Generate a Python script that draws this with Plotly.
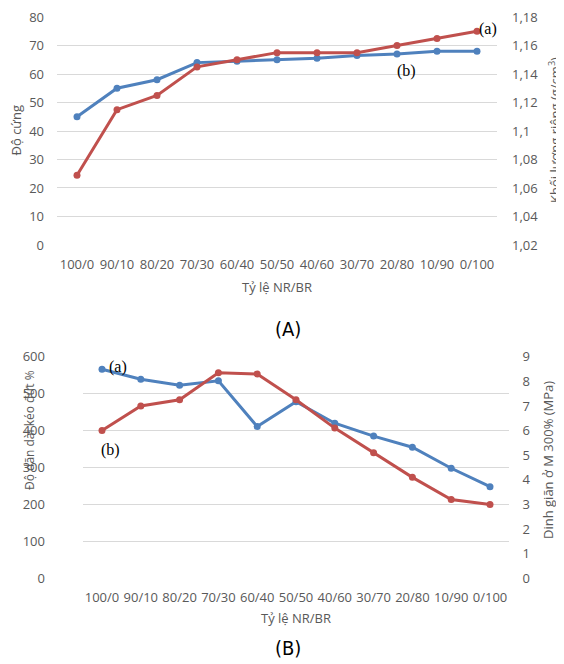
import plotly.graph_objects as go

categories = ["100/0", "90/10", "80/20", "70/30", "60/40", "50/50",
              "40/60", "30/70", "20/80", "10/90", "0/100"]

# Chart (A)
hardness = [45, 55, 58, 64, 64.5, 65, 65.5, 66.5, 67, 68, 68]          # left axis, Độ cứng
density = [1.069, 1.115, 1.125, 1.145, 1.150, 1.155, 1.155, 1.155,
           1.160, 1.165, 1.170]                                       # right axis
# Chart (B)
elongation = [566, 539, 523, 535, 411, 478, 420, 385, 355, 298, 248]   # left axis, %
modulus = [6.0, 7.0, 7.25, 8.35, 8.3, 7.25, 6.1, 5.1, 4.1, 3.2, 3.0]   # right axis, MPa

hard_ticks = [0, 10, 20, 30, 40, 50, 60, 70, 80]
dens_ticks = [1.02, 1.04, 1.06, 1.08, 1.1, 1.12, 1.14, 1.16, 1.18]
elong_ticks = [0, 100, 200, 300, 400, 500, 600]
mod_ticks = [0, 1, 2, 3, 4, 5, 6, 7, 8, 9]

BLUE = "#4F81BD"
RED = "#C0504D"
GRAY = "#595959"
GRID = "#D9D9D9"
TICKFONT = dict(family="Open Sans, DejaVu Sans, sans-serif", size=13, color=GRAY)

# page has an 8px body margin; figure is sized to fit the 564x664 window
OFF = 8
W, H = 564 - OFF, 664 - OFF


def px(x):
    return (x - OFF) / W


def py(y):
    return 1 - (y - OFF) / H


fig = go.Figure()

fig.add_trace(go.Scatter(x=categories, y=hardness, xaxis="x", yaxis="y",
                         line=dict(color=BLUE, width=3), marker=dict(color=BLUE, size=7),
                         mode="lines+markers", showlegend=False))
fig.add_trace(go.Scatter(x=categories, y=density, xaxis="x", yaxis="y2",
                         line=dict(color=RED, width=3), marker=dict(color=RED, size=7),
                         mode="lines+markers", showlegend=False))
fig.add_trace(go.Scatter(x=categories, y=elongation, xaxis="x2", yaxis="y3",
                         line=dict(color=BLUE, width=3), marker=dict(color=BLUE, size=7),
                         mode="lines+markers", showlegend=False))
fig.add_trace(go.Scatter(x=categories, y=modulus, xaxis="x2", yaxis="y4",
                         line=dict(color=RED, width=3), marker=dict(color=RED, size=7),
                         mode="lines+markers", showlegend=False))

xcommon = dict(type="category", range=[-0.5, 10.5], showgrid=False, zeroline=False,
               showline=False, ticks="", tickfont=TICKFONT, automargin=False,
               ticklabelstandoff=10, fixedrange=True, ticklabeloverflow="allow")
ycommon = dict(showline=False, zeroline=False, ticks="", tickfont=TICKFONT,
               automargin=False, tickmode="array", fixedrange=True,
               ticklabeloverflow="allow")

fig.update_layout(
    width=W, height=H,
    margin=dict(l=0, r=0, t=0, b=0),
    paper_bgcolor="white", plot_bgcolor="white",
    separators=",.",
    showlegend=False,
    xaxis=dict(domain=[px(57), px(497)], anchor="y", **xcommon),
    yaxis=dict(domain=[py(245), py(17)], range=[-0.01, 80.01], tickvals=hard_ticks,
               showgrid=True, gridcolor=GRID, gridwidth=1, ticklabelstandoff=12, **ycommon),
    yaxis2=dict(overlaying="y", side="right", anchor="x",
                range=[1.02 - 0.00002, 1.18 + 0.00002], tickvals=dens_ticks,
                showgrid=False, ticklabelstandoff=14, **ycommon),
    xaxis2=dict(domain=[px(82.6), px(509.4)], anchor="y3", **xcommon),
    yaxis3=dict(domain=[py(578.3), py(356.7)], range=[-0.1, 600.1], tickvals=elong_ticks,
                showgrid=True, gridcolor=GRID, gridwidth=1, ticklabelstandoff=11, **ycommon),
    yaxis4=dict(overlaying="y3", side="right", anchor="x2",
                range=[-0.0015, 9.0015], tickvals=mod_ticks,
                showgrid=False, ticklabelstandoff=12, **ycommon),
)

TITLEFONT = dict(family="Open Sans, DejaVu Sans, sans-serif", size=13, color=GRAY)
SMALLTITLE = dict(family="Open Sans, DejaVu Sans, sans-serif", size=12, color=GRAY)
SERIF = dict(family="Liberation Serif, Times New Roman, serif", size=16, color="black")
PANEL = dict(family="Liberation Sans Narrow, DejaVu Sans Condensed, sans-serif", size=20, color="black")

annotations = [
    # chart A titles
    dict(text="Tỷ lệ NR/BR", x=px(277), y=py(287), font=TITLEFONT),
    dict(text="Độ cứng", x=px(15.5), y=py(130), textangle=-90, font=TITLEFONT),
    dict(text="Khối lượng riêng (g/cm<sup>3</sup>)", x=px(554), y=py(130), textangle=-90,
         font=TITLEFONT),
    dict(text="(A)", x=px(288), y=py(329), font=PANEL),
    dict(text="(a)", x=px(488), y=py(29), font=SERIF),
    dict(text="(b)", x=px(406), y=py(71), font=SERIF),
    # chart B titles
    dict(text="Tỷ lệ NR/BR", x=px(296), y=py(618), font=TITLEFONT),
    dict(text="Độ dãn dài kéo đứt %", x=px(29), y=py(430), textangle=-90, font=SMALLTITLE),
    dict(text="Dinh giãn ở M 300% (MPa)", x=px(548), y=py(460), textangle=-90, font=TITLEFONT),
    dict(text="(B)", x=px(288), y=py(648), font=PANEL),
    dict(text="(a)", x=px(118), y=py(367), font=SERIF),
    dict(text="(b)", x=px(111), y=py(450), font=SERIF),
]
for a in annotations:
    a.update(xref="paper", yref="paper", showarrow=False, xanchor="center", yanchor="middle")
    fig.add_annotation(**a)

fig.write_html("out.html")
